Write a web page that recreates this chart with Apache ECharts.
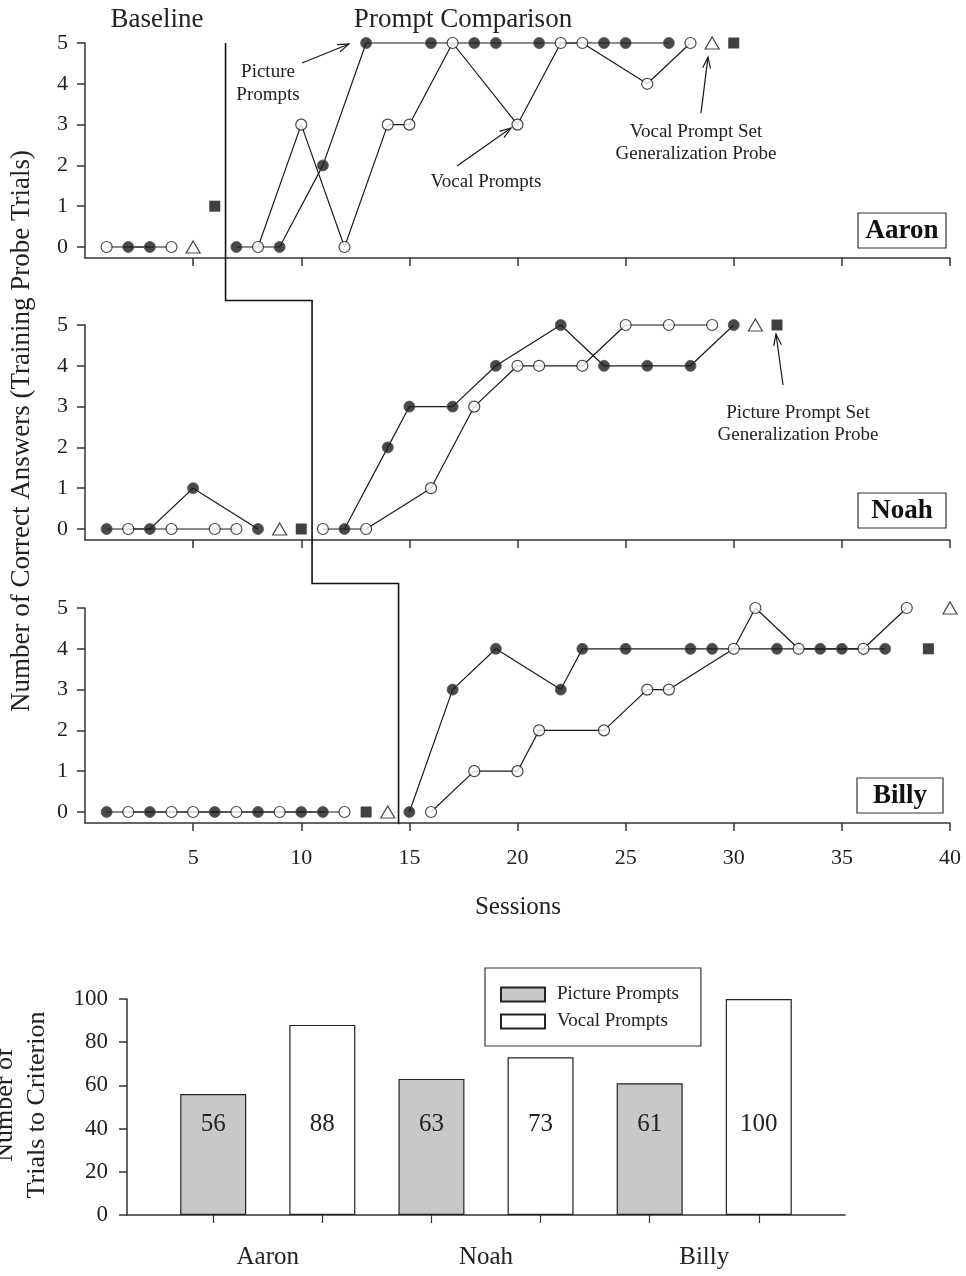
<!DOCTYPE html>
<html>
<head>
<meta charset="utf-8">
<script src="https://cdn.jsdelivr.net/npm/echarts@6.0.0/dist/echarts.min.js"></script>
<style>
html,body{margin:0;padding:0;background:#fff;}
#chart{width:966px;height:1276px;}
</style>
</head>
<body>
<div id="chart"></div>
<script>
// ---------------- DATA ----------------
const sessionTicks = [5, 10, 15, 20, 25, 30, 35, 40];
const answerTicks = [0, 1, 2, 3, 4, 5];
const phaseChanges = [6.5, 10.5, 14.5];

// Aaron  [session, correct answers]
const aaronBaselinePicture = [[2, 0], [3, 0]];
const aaronBaselineVocal = [[1, 0], [4, 0]];
const aaronPicture = [[7, 0], [9, 0], [11, 2], [13, 5], [16, 5], [18, 5], [19, 5], [21, 5], [24, 5], [25, 5], [27, 5]];
const aaronVocal = [[8, 0], [10, 3], [12, 0], [14, 3], [15, 3], [17, 5], [20, 3], [22, 5], [23, 5], [26, 4], [28, 5]];
const aaronVocalProbe = [[5, 0], [29, 5]];
const aaronPictureProbe = [[6, 1], [30, 5]];

// Noah
const noahBaselinePicture = [[1, 0], [3, 0], [5, 1], [8, 0]];
const noahBaselineVocal = [[2, 0], [4, 0], [6, 0], [7, 0]];
const noahPicture = [[12, 0], [14, 2], [15, 3], [17, 3], [19, 4], [22, 5], [24, 4], [26, 4], [28, 4], [30, 5]];
const noahVocal = [[11, 0], [13, 0], [16, 1], [18, 3], [20, 4], [21, 4], [23, 4], [25, 5], [27, 5], [29, 5]];
const noahVocalProbe = [[9, 0], [31, 5]];
const noahPictureProbe = [[10, 0], [32, 5]];

// Billy
const billyBaselinePicture = [[1, 0], [3, 0], [6, 0], [8, 0], [10, 0], [11, 0]];
const billyBaselineVocal = [[2, 0], [4, 0], [5, 0], [7, 0], [9, 0], [12, 0]];
const billyPicture = [[15, 0], [17, 3], [19, 4], [22, 3], [23, 4], [25, 4], [28, 4], [29, 4], [32, 4], [34, 4], [35, 4], [37, 4]];
const billyVocal = [[16, 0], [18, 1], [20, 1], [21, 2], [24, 2], [26, 3], [27, 3], [30, 4], [31, 5], [33, 4], [36, 4], [38, 5]];
const billyVocalProbe = [[14, 0], [40, 5]];
const billyPictureProbe = [[13, 0], [39, 4]];

// Trials to criterion
const participants = ['Aaron', 'Noah', 'Billy'];
const picturePromptTrials = [56, 63, 61];
const vocalPromptTrials = [88, 73, 100];
const trialTicks = [0, 20, 40, 60, 80, 100];

// ---------------- CHART ----------------
const SERIF = '"Liberation Serif", "Times New Roman", serif';
const INK = '#1a1a1a';
const AX = '#333';

const panels = [
  { name: 'Aaron', basePic: aaronBaselinePicture, baseVoc: aaronBaselineVocal, pic: aaronPicture, voc: aaronVocal, vProbe: aaronVocalProbe, pProbe: aaronPictureProbe },
  { name: 'Noah', basePic: noahBaselinePicture, baseVoc: noahBaselineVocal, pic: noahPicture, voc: noahVocal, vProbe: noahVocalProbe, pProbe: noahPictureProbe },
  { name: 'Billy', basePic: billyBaselinePicture, baseVoc: billyBaselineVocal, pic: billyPicture, voc: billyVocal, vProbe: billyVocalProbe, pProbe: billyPictureProbe }
];

const panelTops = [43, 325, 608];
const grids = panelTops.map(t => ({ left: 85, width: 865, top: t, height: 215, outerBoundsMode: 'none', containLabel: false }));
grids.push({ left: 127, width: 718, top: 999, height: 216, outerBoundsMode: 'none', containLabel: false });

const xAxes = panels.map((p, gi) => ({
  type: 'value', gridIndex: gi, min: 0, max: 40,
  axisLine: { show: true, onZero: false, lineStyle: { color: AX, width: 1.5 } },
  axisTick: { show: true, inside: false, length: 8, customValues: sessionTicks, lineStyle: { color: AX, width: 1.5 } },
  axisLabel: { show: gi === 2, customValues: sessionTicks, margin: 24, fontFamily: SERIF, fontSize: 22, color: '#222' },
  splitLine: { show: false }
}));
xAxes.push({
  type: 'value', gridIndex: 3, min: 0.21, max: 6.79,
  axisLine: { show: true, onZero: false, lineStyle: { color: AX, width: 1.5 } },
  axisTick: { show: true, length: 8, customValues: [1, 2, 3, 4, 5, 6], lineStyle: { color: AX, width: 1.2 } },
  axisLabel: {
    show: true, customValues: participants.map((_, i) => 1.5 + 2 * i), margin: 30,
    fontFamily: SERIF, fontSize: 25, color: '#222',
    formatter: v => participants[Math.round((v - 1.5) / 2)]
  },
  splitLine: { show: false }
});

const yAxes = panels.map((p, gi) => ({
  type: 'value', gridIndex: gi, min: -0.27, max: 5,
  axisLine: { show: true, onZero: false, lineStyle: { color: AX, width: 1.5 } },
  axisTick: { show: true, length: 8, customValues: answerTicks, lineStyle: { color: AX, width: 1.5 } },
  axisLabel: { show: true, customValues: answerTicks, margin: 17, fontFamily: SERIF, fontSize: 22, color: '#222' },
  splitLine: { show: false }
}));
yAxes.push({
  type: 'value', gridIndex: 3, min: 0, max: 100, interval: 20,
  axisLine: { show: true, lineStyle: { color: AX, width: 1.5 } },
  axisTick: { show: true, length: 8, lineStyle: { color: AX, width: 1.5 } },
  axisLabel: { show: true, margin: 19, fontFamily: SERIF, fontSize: 23, color: '#222' },
  splitLine: { show: false }
});

const series = [];
panels.forEach((p, gi) => {
  [p.basePic, p.baseVoc, p.pic, p.voc].forEach(d => {
    series.push({
      type: 'line', xAxisIndex: gi, yAxisIndex: gi, data: d, symbol: 'none',
      lineStyle: { color: INK, width: 1.2 }, z: 2, silent: true, clip: false
    });
  });
  const filled = { color: '#1c1c1c', borderColor: '#555', borderWidth: 1 };
  const open = { color: '#fff', borderColor: INK, borderWidth: 1.2 };
  [[p.basePic, filled], [p.pic, filled], [p.baseVoc, open], [p.voc, open]].forEach(([d, st]) => {
    series.push({
      type: 'scatter', xAxisIndex: gi, yAxisIndex: gi, data: d, symbol: 'circle', symbolSize: 11,
      itemStyle: st, z: 3, silent: true, clip: false
    });
  });
  series.push({
    type: 'scatter', xAxisIndex: gi, yAxisIndex: gi, data: p.vProbe, symbol: 'triangle', symbolSize: [14, 12],
    itemStyle: { color: '#fff', borderColor: INK, borderWidth: 1.2 }, z: 3, silent: true, clip: false
  });
  series.push({
    type: 'scatter', xAxisIndex: gi, yAxisIndex: gi, data: p.pProbe, symbol: 'rect', symbolSize: 11,
    itemStyle: { color: '#111' }, z: 3, silent: true, clip: false
  });
});

const barLabel = {
  show: true, position: 'insideBottom', distance: 78,
  fontFamily: SERIF, fontSize: 25, color: '#222',
  formatter: p => p.value[1]
};
series.push({
  name: 'Picture Prompts', type: 'bar', xAxisIndex: 3, yAxisIndex: 3, barWidth: 66, barGap: '-100%',
  data: picturePromptTrials.map((v, i) => [1 + 2 * i, v]),
  itemStyle: { color: '#c8c8c8', borderColor: '#222', borderWidth: 1.2 },
  label: barLabel
});
series.push({
  name: 'Vocal Prompts', type: 'bar', xAxisIndex: 3, yAxisIndex: 3, barWidth: 66, barGap: '-100%',
  data: vocalPromptTrials.map((v, i) => [2 + 2 * i, v]),
  itemStyle: { color: '#fff', borderColor: '#222', borderWidth: 1.2 },
  label: barLabel
});

const option = {
  animation: false,
  backgroundColor: '#fff',
  grid: grids,
  xAxis: xAxes,
  yAxis: yAxes,
  legend: {
    data: ['Picture Prompts', 'Vocal Prompts'],
    orient: 'vertical', left: 485, top: 968,
    itemWidth: 44, itemHeight: 14, itemGap: 8,
    padding: [17, 22, 15, 15],
    borderColor: '#333', borderWidth: 1.2, backgroundColor: '#fff',
    icon: 'rect',
    textStyle: { fontFamily: SERIF, fontSize: 19, color: '#222', padding: [0, 0, 0, 7] },
    selectedMode: false
  },
  series: series
};

const chart = echarts.init(document.getElementById('chart'), null, { renderer: 'canvas' });
chart.setOption(option);

// ---------- annotations computed from the axes ----------
const px = (gi, pt) => chart.convertToPixel({ gridIndex: gi }, pt);
const a = px(0, [phaseChanges[0], 5]);
const b = px(1, [phaseChanges[0], 5.6]);
const c = px(1, [phaseChanges[1], 5.6]);
const d = px(2, [phaseChanges[1], 5.6]);
const e = px(2, [phaseChanges[2], 5.6]);
const f = px(2, [phaseChanges[2], -0.3]);

function txt(x, y, text, size, extra) {
  return Object.assign({
    type: 'text', x: x, y: y, z: 10,
    style: Object.assign({ text: text, fontFamily: SERIF, fontSize: size, fill: '#222', align: 'center', verticalAlign: 'middle' }, extra || {})
  });
}
function arrow(x1, y1, x2, y2) {
  const ang = Math.atan2(y2 - y1, x2 - x1), L = 12, w = 0.33;
  const p1 = [x2 - L * Math.cos(ang - w), y2 - L * Math.sin(ang - w)];
  const p2 = [x2 - L * Math.cos(ang + w), y2 - L * Math.sin(ang + w)];
  return [
    { type: 'line', z: 10, shape: { x1: x1, y1: y1, x2: x2, y2: y2 }, style: { stroke: INK, lineWidth: 1.2 } },
    { type: 'polyline', z: 10, shape: { points: [p1, [x2, y2], p2] }, style: { stroke: INK, lineWidth: 1.2, fill: null } }
  ];
}
function nameBox(x, y, w, h, name) {
  return [
    { type: 'rect', z: 9, shape: { x: x, y: y, width: w, height: h }, style: { fill: '#fff', stroke: '#333', lineWidth: 1.2 } },
    txt(x + w / 2, y + h / 2 + 1, name, 27, { fontWeight: 'bold', fill: '#111' })
  ];
}

const graphics = [
  { type: 'polyline', z: 8, shape: { points: [a, b, c, d, e, f] }, style: { stroke: '#111', lineWidth: 1.6, fill: null } },
  txt(157, 20, 'Baseline', 27),
  txt(463, 20, 'Prompt Comparison', 27),
  txt(268, 72, 'Picture', 19),
  txt(268, 95, 'Prompts', 19),
  txt(486, 182, 'Vocal Prompts', 19),
  txt(696, 132, 'Vocal Prompt Set', 19),
  txt(696, 154, 'Generalization Probe', 19),
  txt(798, 413, 'Picture Prompt Set', 19),
  txt(798, 435, 'Generalization Probe', 19),
  txt(518, 907, 'Sessions', 25),
  Object.assign(txt(22, 431, 'Number of Correct Answers (Training Probe Trials)', 27), { rotation: Math.PI / 2 }),
  Object.assign(txt(21, 1105, 'Number of\nTrials to Criterion', 26, { lineHeight: 32 }), { rotation: Math.PI / 2 })
]
  .concat(arrow(302, 63, 349, 44))
  .concat(arrow(457, 166, 511, 128))
  .concat(arrow(701, 113, 708, 57))
  .concat(arrow(783, 385, 776, 334))
  .concat(nameBox(858, 213, 88, 35, 'Aaron'))
  .concat(nameBox(858, 493, 88, 35, 'Noah'))
  .concat(nameBox(857, 778, 86, 35, 'Billy'));

chart.setOption({ graphic: graphics });
</script>
</body>
</html>
